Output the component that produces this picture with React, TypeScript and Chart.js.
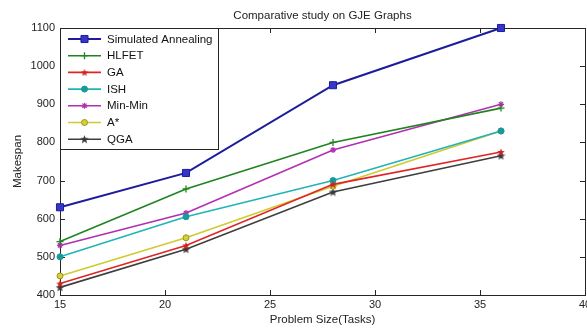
import React, { useEffect, useRef } from "react";
import { Chart, registerables } from "chart.js";
import { drawPoint } from "chart.js/helpers";

Chart.register(...registerables);

const chartTitle = "Comparative study on GJE Graphs";
const xAxisTitle = "Problem Size(Tasks)";
const yAxisTitle = "Makespan";

const problemSizes = [15, 21, 28, 36];
const saValues = [630, 720, 950, 1100];
const hlfetValues = [540, 678, 800, 890];
const gaValues = [430, 530, 690, 775];
const ishValues = [500, 605, 700, 830];
const minMinValues = [530, 615, 780, 900];
const aStarValues = [450, 550, 685, 830];
const qgaValues = [420, 520, 670, 765];

const seriesNames = ["Simulated Annealing", "HLFET", "GA", "ISH", "Min-Min", "A*", "QGA"];
const xTicks = [15, 20, 25, 30, 35, 40];
const yTicks = [400, 500, 600, 700, 800, 900, 1000, 1100];

const FONT = "'Liberation Sans', Arial, sans-serif";

function makePentagram(color: string, size: number) {
  const c = document.createElement("canvas");
  c.width = size;
  c.height = size;
  const ctx = c.getContext("2d")!;
  const cx = size / 2;
  const cy = size / 2 + 0.4;
  const R = size / 2;
  const r = R * 0.42;
  ctx.beginPath();
  for (let i = 0; i < 10; i++) {
    const ang = -Math.PI / 2 + (i * Math.PI) / 5;
    const rad = i % 2 === 0 ? R : r;
    const px = cx + rad * Math.cos(ang);
    const py = cy + rad * Math.sin(ang);
    if (i === 0) ctx.moveTo(px, py);
    else ctx.lineTo(px, py);
  }
  ctx.closePath();
  ctx.fillStyle = color;
  ctx.fill();
  return c;
}

const toPoints = (vals: number[]) => vals.map((v, i) => ({ x: problemSizes[i], y: v }));

const framePlugin = {
  id: "frame",
  beforeDatasetsDraw(chart: any) {
    const { ctx, chartArea: a, scales } = chart;
    ctx.save();
    ctx.strokeStyle = "#262626";
    ctx.lineWidth = 1;
    ctx.strokeRect(Math.round(a.left) + 0.5, Math.round(a.top) + 0.5, Math.round(a.right - a.left), Math.round(a.bottom - a.top));
    const tl = 5;
    ctx.beginPath();
    xTicks.forEach((t) => {
      const px = Math.round(scales.x.getPixelForValue(t)) + 0.5;
      ctx.moveTo(px, a.bottom);
      ctx.lineTo(px, a.bottom - tl);
      ctx.moveTo(px, a.top);
      ctx.lineTo(px, a.top + tl);
    });
    yTicks.forEach((t) => {
      const py = Math.round(scales.y.getPixelForValue(t)) + 0.5;
      ctx.moveTo(a.left, py);
      ctx.lineTo(a.left + tl, py);
      ctx.moveTo(a.right, py);
      ctx.lineTo(a.right - tl, py);
    });
    ctx.stroke();
    ctx.restore();
  },
  afterDraw(chart: any) {
    const { ctx, chartArea: a } = chart;
    ctx.save();
    ctx.fillStyle = "#222";
    ctx.font = `11.5px ${FONT}`;
    ctx.textAlign = "center";
    ctx.textBaseline = "middle";
    ctx.fillText(chartTitle, (a.left + a.right) / 2, 16);
    ctx.restore();
  },
};

const legendPlugin = {
  id: "boxLegend",
  afterDatasetsDraw(chart: any) {
    const { ctx, chartArea: a } = chart;
    const x0 = Math.round(a.left) + 0.5;
    const y0 = Math.round(a.top) + 0.5;
    const w = 158;
    const h = 121;
    ctx.save();
    ctx.fillStyle = "#ffffff";
    ctx.fillRect(x0, y0, w, h);
    ctx.strokeStyle = "#262626";
    ctx.lineWidth = 1;
    ctx.strokeRect(x0, y0, w, h);
    ctx.font = `11.5px ${FONT}`;
    ctx.textBaseline = "middle";
    ctx.textAlign = "left";
    chart.data.datasets.forEach((ds: any, i: number) => {
      const y = a.top + 11 + i * 16.7;
      ctx.strokeStyle = ds.borderColor;
      ctx.lineWidth = ds.borderWidth;
      ctx.beginPath();
      ctx.moveTo(a.left + 8, y);
      ctx.lineTo(a.left + 41, y);
      ctx.stroke();
      ctx.fillStyle = ds.pointBackgroundColor;
      ctx.strokeStyle = ds.pointBorderColor;
      ctx.lineWidth = ds.pointBorderWidth;
      drawPoint(ctx, { pointStyle: ds.pointStyle, radius: ds.pointRadius, rotation: 0, borderWidth: ds.pointBorderWidth }, a.left + 24.5, y);
      ctx.fillStyle = "#111";
      ctx.fillText(seriesNames[i], a.left + 47, y + 0.5);
    });
    ctx.restore();
  },
};

export default function App() {
  const ref = useRef<HTMLCanvasElement | null>(null);
  useEffect(() => {
    if (!ref.current) return;
    const gaStar = makePentagram("#d42020", 8);
    const qgaStar = makePentagram("#383838", 9);
    const mk = (label: string, vals: number[], color: string, bw: number, style: any, radius: number, bg: string, pb: string, pbw: number) => ({
      label,
      data: toPoints(vals),
      borderColor: color,
      borderWidth: bw,
      pointStyle: style,
      pointRadius: radius,
      pointBackgroundColor: bg,
      pointBorderColor: pb,
      pointBorderWidth: pbw,
      tension: 0,
      clip: false as any,
    });
    const chart = new Chart(ref.current, {
      type: "line",
      data: {
        datasets: [
          mk(seriesNames[0], saValues, "#1d1d9c", 2, "rect", 5, "#3535c8", "#1d1d9c", 1),
          mk(seriesNames[1], hlfetValues, "#1f841f", 1.6, "cross", 3.5, "#1f841f", "#1f841f", 1.3),
          mk(seriesNames[2], gaValues, "#e02525", 1.6, gaStar, 4, "#d42020", "#d42020", 1),
          mk(seriesNames[3], ishValues, "#22b4b4", 1.6, "circle", 3, "#179a9a", "#179a9a", 1),
          mk(seriesNames[4], minMinValues, "#b22fb2", 1.6, "star", 3, "#b22fb2", "#b22fb2", 1.2),
          mk(seriesNames[5], aStarValues, "#cfcb2e", 1.6, "circle", 3, "#d8d030", "#9a9420", 1),
          mk(seriesNames[6], qgaValues, "#3e3e3e", 1.6, qgaStar, 4.5, "#383838", "#383838", 1),
        ],
      },
      options: {
        animation: false,
        responsive: false,
        maintainAspectRatio: false,
        devicePixelRatio: 1,
        layout: { autoPadding: false, padding: { top: 28, right: 2, left: 0, bottom: 0 } },
        plugins: { legend: { display: false }, tooltip: { enabled: false }, title: { display: false } },
        scales: {
          x: {
            type: "linear",
            min: 15,
            max: 40,
            grid: { display: false, drawTicks: false },
            border: { display: false },
            ticks: { stepSize: 5, padding: 3, color: "#222", font: { family: FONT, size: 11 }, maxRotation: 0, callback: (v: any) => String(v) },
            title: { display: true, text: xAxisTitle, color: "#222", font: { family: FONT, size: 11.5 }, padding: { top: 0, bottom: 1 } },
            afterFit: (s: any) => {
              s.height = 33;
              s.paddingLeft = 0;
              s.paddingRight = 0;
            },
          },
          y: {
            min: 400,
            max: 1100,
            grid: { display: false, drawTicks: false },
            border: { display: false },
            ticks: { stepSize: 100, padding: 5, color: "#222", font: { family: FONT, size: 11 }, callback: (v: any) => String(v) },
            title: { display: true, text: yAxisTitle, color: "#222", font: { family: FONT, size: 11.5 }, padding: { top: 11, bottom: 0 } },
            afterFit: (s: any) => {
              s.width = 60;
              s.paddingTop = 0;
              s.paddingBottom = 0;
            },
          },
        },
      },
      plugins: [framePlugin, legendPlugin],
    });
    return () => chart.destroy();
  }, []);
  return (
    <div style={{ position: "fixed", left: 0, top: 0, width: 587, height: 328, background: "#fff" }}>
      <canvas ref={ref} width={587} height={328} style={{ display: "block" }} />
    </div>
  );
}
